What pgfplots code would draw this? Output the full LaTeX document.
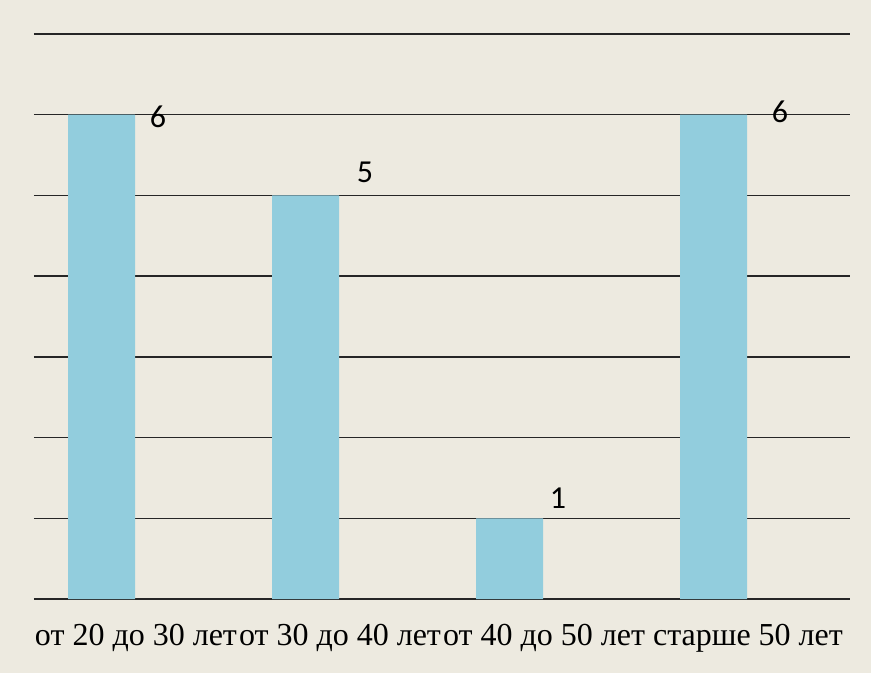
\documentclass[border=0pt]{standalone}
\usepackage{pgfplots}
\pgfplotsset{compat=1.18}
\usepackage{fontspec}
\setmainfont{Liberation Serif}
\newfontfamily\calfont{Carlito}
\definecolor{bg}{RGB}{237,234,224}
\definecolor{barblue}{RGB}{146,205,221}

\begin{document}
\begin{tikzpicture}[x=1pt,y=1pt]
% page = 871 x 673, axis box from (34,74) to (850,639)
\fill[bg] (-34,-74) rectangle (837,599);
\useasboundingbox (-34,-74) rectangle (837,599);
\begin{axis}[
    at={(0,0)}, anchor=south west,
    scale only axis,
    width=816pt, height=565pt,
    xmin=-0.331, xmax=3.669,
    ymin=0, ymax=7,
    ytick={0,...,7},
    yticklabels={},
    ymajorgrids,
    major grid style={black!85, line width=1.3pt},
    axis line style={draw=none},
    tick style={draw=none},
    xtick={0.169,1.169,2.169,3.169},
    xticklabels={от 20 до 30 лет,от 30 до 40 лет,от 40 до 50 лет,старше 50 лет},
    xticklabel style={font=\fontsize{32}{36}\selectfont, anchor=base, yshift=-46pt, inner sep=0pt},
    clip=false,
]
\addplot[ybar, bar width=67pt, fill=barblue, draw=none]
    coordinates {(0,6) (1,5) (2,1) (3,6)};
\addplot[only marks, mark=none, point meta=explicit symbolic,
    nodes near coords,
    every node near coord/.append style={anchor=center, inner sep=0pt, font=\calfont\fontsize{32}{36}\selectfont}]
    coordinates {(0.277,5.97)[6] (1.292,5.28)[5] (2.238,1.25)[1] (3.326,6.03)[6]};
\end{axis}
\end{tikzpicture}
\end{document}
